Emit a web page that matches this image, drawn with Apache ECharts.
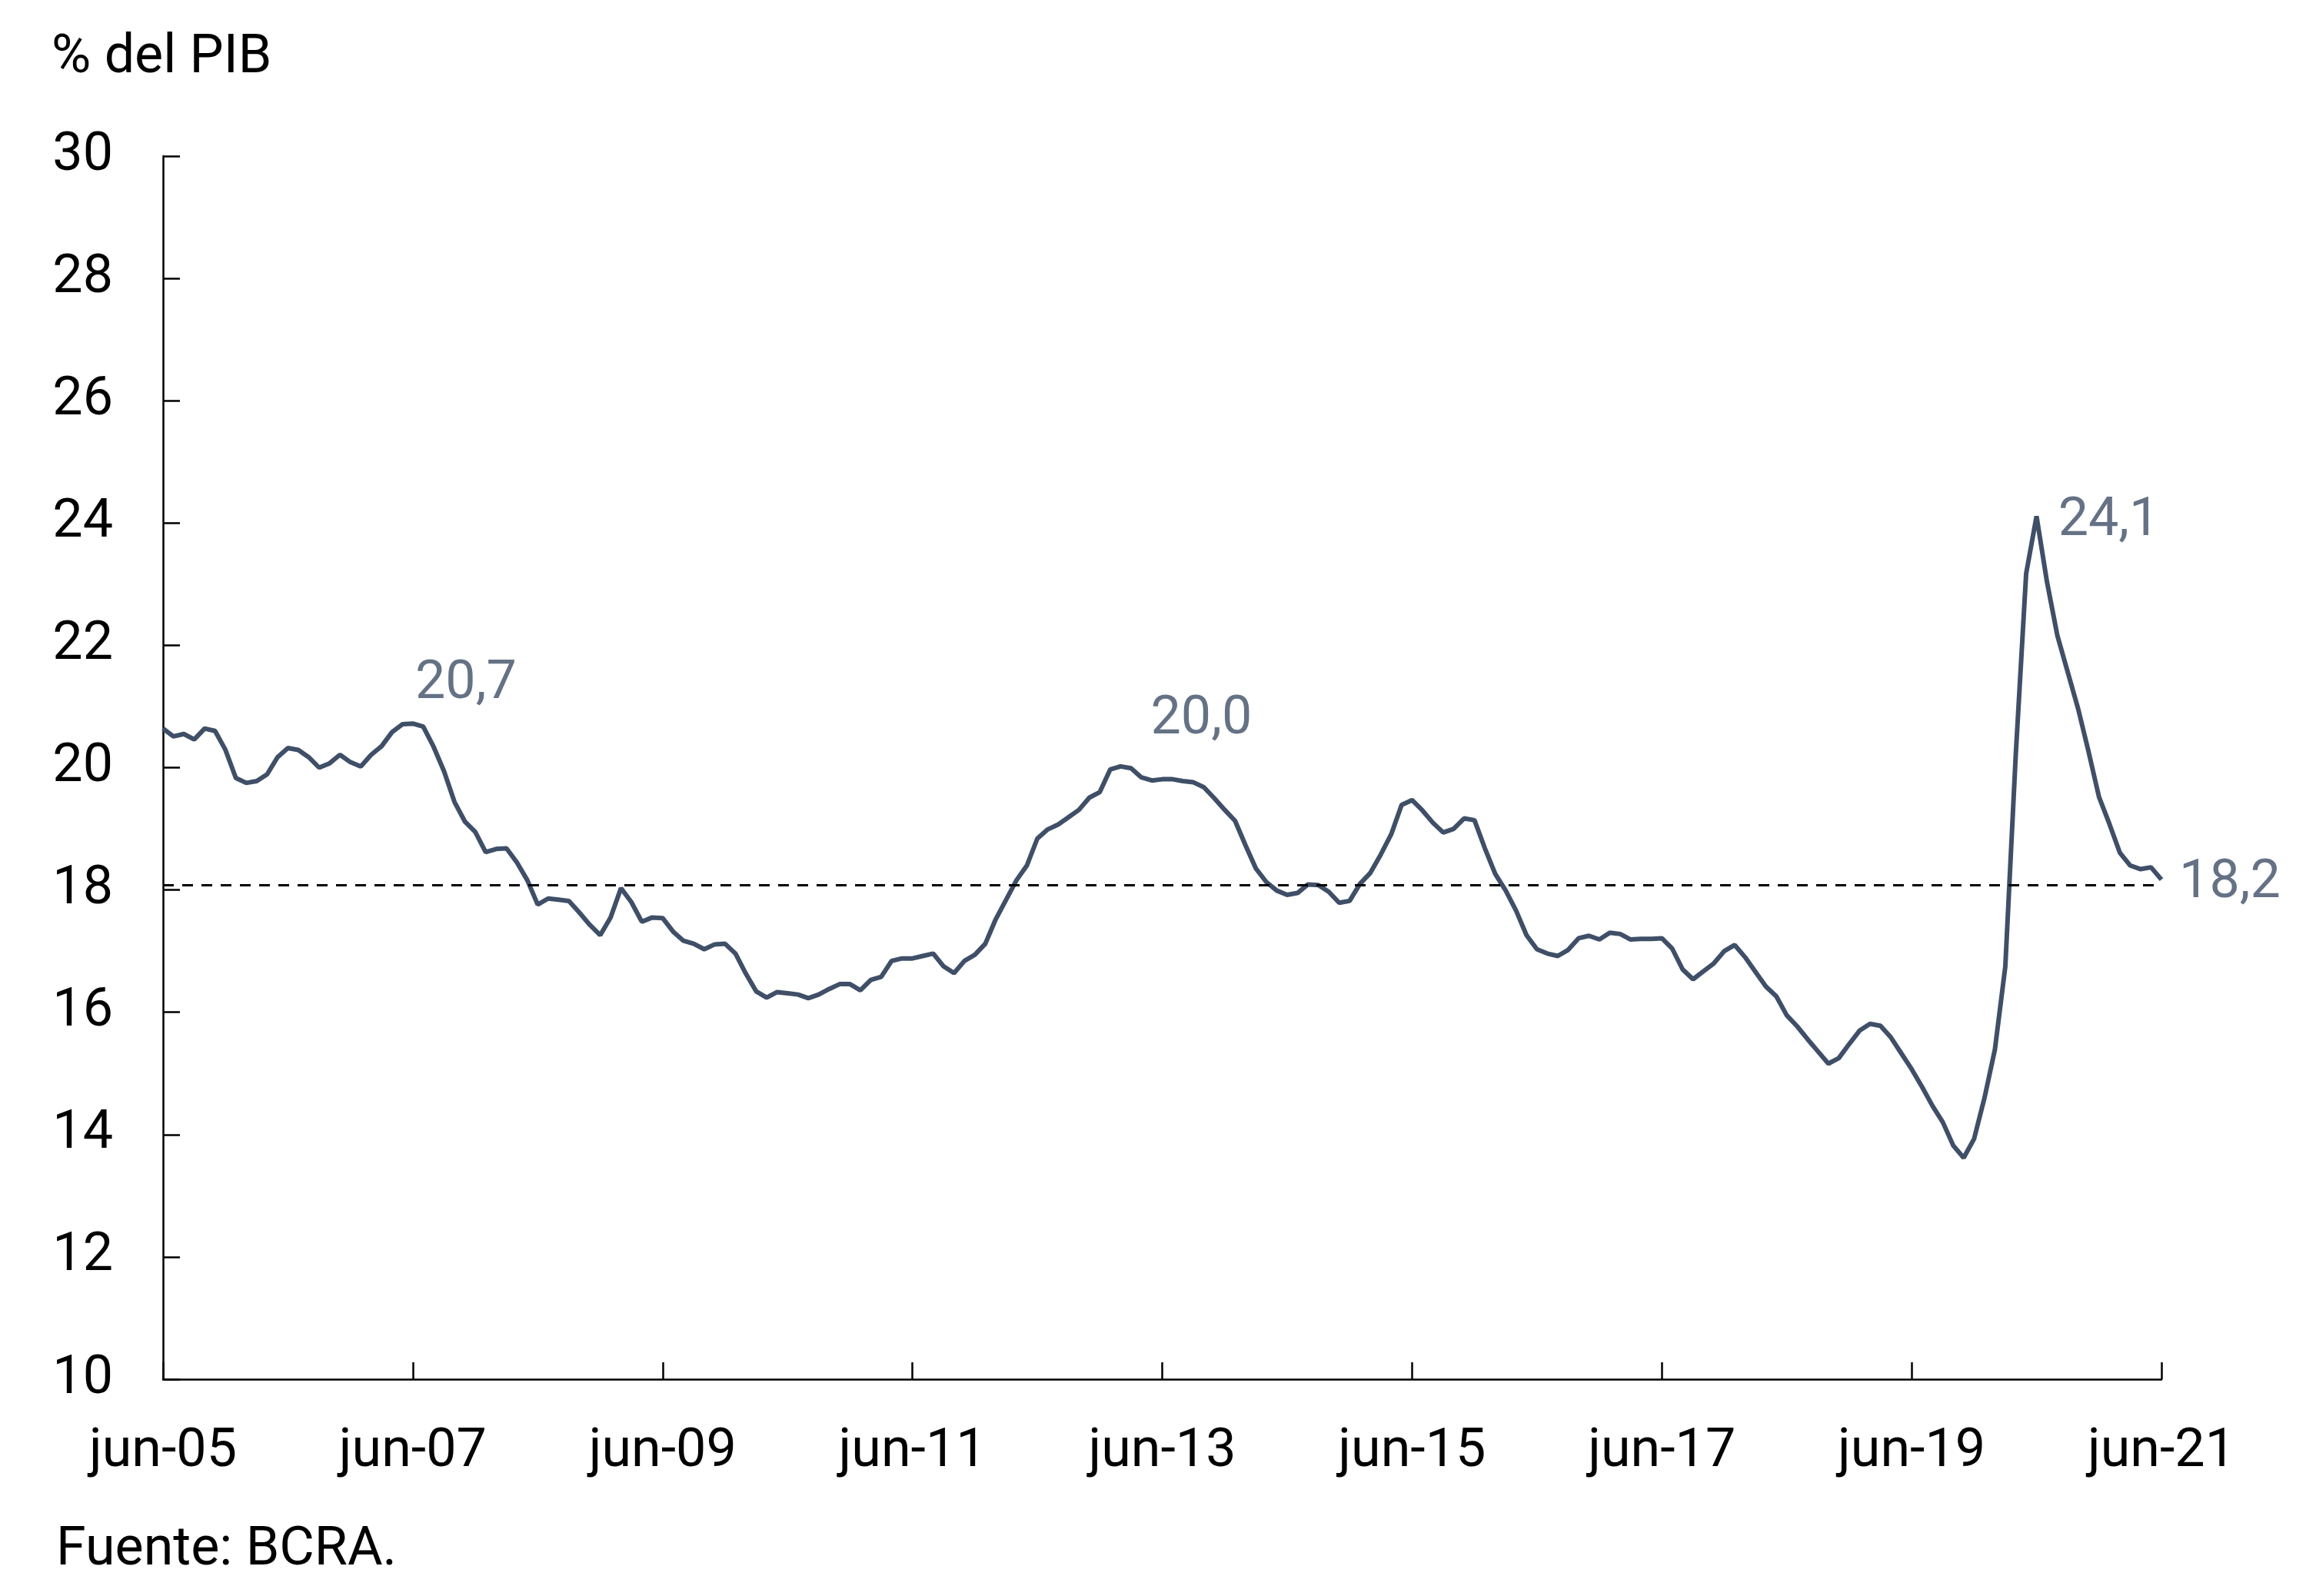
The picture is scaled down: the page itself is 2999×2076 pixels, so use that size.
<!DOCTYPE html>
<html>
<head>
<meta charset="utf-8">
<script src="https://cdn.jsdelivr.net/npm/echarts@6/dist/echarts.min.js"></script>
<style>
html,body{margin:0;padding:0;background:#fff;}
#chart{width:2999px;height:2076px;}
</style>
</head>
<body>
<div id="chart"></div>
<script>
// ---- data ----
const monthNames = ['ene','feb','mar','abr','may','jun','jul','ago','sep','oct','nov','dic'];
const startYear = 2005, startMonth = 5; // jun-05
const values = [
20.64,20.51,20.55,20.46,20.64,20.60,20.29,19.83,19.75,19.78,19.89,20.17,
20.32,20.29,20.17,20.00,20.07,20.21,20.09,20.02,20.21,20.35,20.58,20.71,
20.72,20.67,20.34,19.94,19.44,19.12,18.95,18.62,18.67,18.68,18.45,18.16,
17.76,17.86,17.84,17.82,17.63,17.43,17.26,17.55,18.03,17.80,17.48,17.55,
17.54,17.32,17.17,17.12,17.03,17.11,17.12,16.96,16.63,16.34,16.24,16.33,
16.31,16.29,16.23,16.29,16.38,16.46,16.46,16.36,16.53,16.58,16.84,16.88,
16.88,16.92,16.96,16.75,16.64,16.84,16.94,17.12,17.52,17.84,18.16,18.40,
18.84,18.99,19.07,19.19,19.31,19.51,19.60,19.97,20.02,19.99,19.84,19.79,
19.81,19.81,19.78,19.76,19.68,19.50,19.31,19.13,18.73,18.35,18.13,17.99,
17.92,17.95,18.09,18.08,17.97,17.79,17.82,18.10,18.28,18.58,18.91,19.39,
19.47,19.30,19.10,18.94,19.00,19.17,19.14,18.68,18.26,17.99,17.66,17.26,
17.03,16.96,16.92,17.02,17.21,17.25,17.19,17.30,17.28,17.19,17.20,17.20,
17.21,17.04,16.70,16.54,16.67,16.80,17.00,17.10,16.90,16.66,16.42,16.26,
15.95,15.77,15.56,15.36,15.16,15.25,15.48,15.70,15.81,15.78,15.59,15.33,
15.07,14.78,14.47,14.20,13.82,13.62,13.93,14.60,15.39,16.75,20.20,23.17,
24.11,23.04,22.16,21.56,20.96,20.26,19.52,19.08,18.61,18.40,18.34,18.37,
18.17
];
const averageLine = 18.08;
const annotatedIdx = [24, 92, 180, 192];
const yTicks = {min: 10, max: 30, interval: 2};
const unitLabel = '% del PIB';
const sourceLabel = 'Fuente: BCRA.';

const categories = values.map((_, i) => {
  const m = (startMonth + i) % 12;
  const y = startYear + Math.floor((startMonth + i) / 12);
  return monthNames[m] + '-' + String(y % 100).padStart(2, '0');
});

// ---- styles ----
const lineColor = '#3F4F67';
const font = 'Roboto';
const fs = 70;
const labelOffsets = [[69, -51], [105, -60], [94, 7], [89, 5]];

const fmt = v => v.toFixed(1).replace('.', ',');

const chart = echarts.init(document.getElementById('chart'), null, {renderer: 'canvas'});
chart.setOption({
  animation: false,
  backgroundColor: '#ffffff',
  grid: {left: 212, right: 188, top: 203, bottom: 282, containLabel: false},
  xAxis: {
    type: 'category',
    data: categories,
    boundaryGap: false,
    axisLine: {lineStyle: {color: '#000', width: 2.5}},
    axisTick: {show: true, inside: true, length: 22, interval: 23, lineStyle: {color: '#000', width: 2.5}},
    axisLabel: {interval: 23, color: '#000', fontFamily: font, fontSize: fs, margin: 60},
    splitLine: {show: false}
  },
  yAxis: {
    type: 'value',
    min: yTicks.min, max: yTicks.max, interval: yTicks.interval,
    axisLine: {show: true, lineStyle: {color: '#000', width: 2.5}},
    axisTick: {show: true, inside: true, length: 22, lineStyle: {color: '#000', width: 2.5}},
    axisLabel: {color: '#000', fontFamily: font, fontSize: fs, margin: 65, padding: [16, 0, 0, 0]},
    splitLine: {show: false}
  },
  series: [
    {
      type: 'line',
      data: values,
      showSymbol: false,
      symbol: 'none',
      lineStyle: {color: lineColor, width: 6},
      z: 3,
      markLine: {
        silent: true,
        symbol: 'none',
        label: {show: false},
        lineStyle: {color: '#000', width: 3, type: [14, 11]},
        data: [{yAxis: averageLine}]
      }
    },
    {
      type: 'scatter',
      data: annotatedIdx.map((i, k) => ({
        value: [i, values[i]],
        label: {offset: labelOffsets[k]}
      })),
      symbolSize: 1,
      itemStyle: {color: 'rgba(0,0,0,0)'},
      label: {
        show: true,
        position: 'inside',
        align: 'center',
        verticalAlign: 'middle',
        color: lineColor,
        fontFamily: font,
        fontSize: fs,
        formatter: p => fmt(p.value[1])
      },
      z: 4
    }
  ],
  graphic: [
    {type: 'text', left: 67, top: 41, style: {text: unitLabel, fill: '#000', font: fs + 'px ' + font}},
    {type: 'text', left: 73, top: 1982, style: {text: sourceLabel, fill: '#000', font: fs + 'px ' + font}}
  ]
});
</script>
</body>
</html>
